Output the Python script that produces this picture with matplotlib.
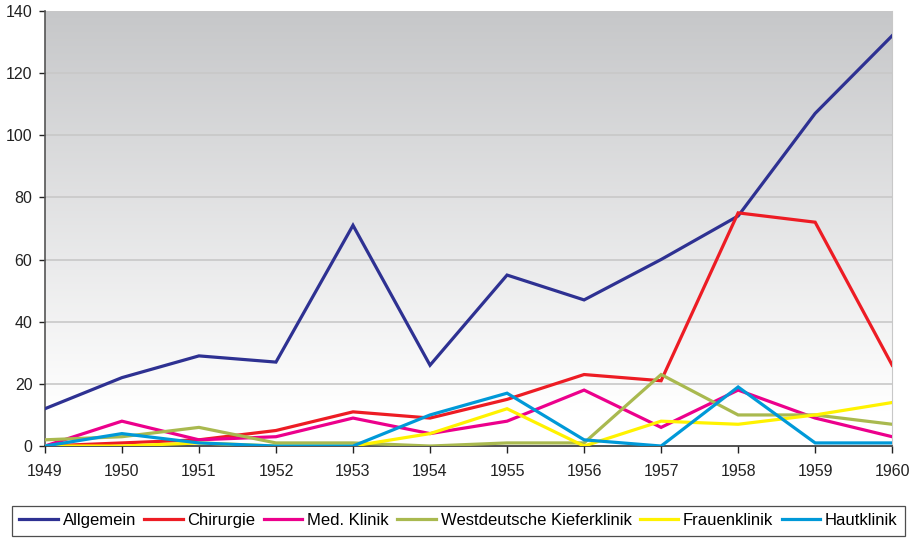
import matplotlib
matplotlib.use("Agg")
import matplotlib.pyplot as plt
import numpy as np

plt.rcParams['font.family'] = ['Liberation Sans', 'DejaVu Sans']

jahre = [1949, 1950, 1951, 1952, 1953, 1954, 1955, 1956, 1957, 1958, 1959, 1960]

allgemein = [12, 22, 29, 27, 71, 26, 55, 47, 60, 74, 107, 132]
chirurgie = [0, 1, 2, 5, 11, 9, 15, 23, 21, 75, 72, 26]
med_klinik = [0, 8, 2, 3, 9, 4, 8, 18, 6, 18, 9, 3]
kieferklinik = [2, 3, 6, 1, 1, 0, 1, 1, 23, 10, 10, 7]
frauenklinik = [0, 0, 1, 0, 0, 4, 12, 0, 8, 7, 10, 14]
hautklinik = [0, 4, 1, 0, 0, 10, 17, 2, 0, 19, 1, 1]

namen = ["Allgemein", "Chirurgie", "Med. Klinik", "Westdeutsche Kieferklinik",
         "Frauenklinik", "Hautklinik"]
reihen = [allgemein, chirurgie, med_klinik, kieferklinik, frauenklinik, hautklinik]
farben = ["#2e3192", "#ed1c24", "#ec008c", "#a9b94f", "#fff200", "#0099d8"]

fig = plt.figure(figsize=(9.16, 5.4), dpi=100)
ax = fig.add_axes([0.049, 0.174, 0.925, 0.806])

# Hintergrund mit Verlauf grau -> weiss
verlauf = np.linspace(0, 1, 256).reshape(-1, 1)
cmap = matplotlib.colors.LinearSegmentedColormap.from_list(
    "bg", [(0, "#ffffff"), (0.08, "#ffffff"), (1, "#c6c7c9")])
ax.imshow(verlauf, extent=[1949, 1960, 0, 140], origin="lower", aspect="auto",
          cmap=cmap, zorder=0)

for y in range(20, 141, 20):
    ax.axhline(y, color="#c8c8c8", lw=1.2, zorder=1)

for werte, name, farbe in zip(reihen, namen, farben):
    ax.plot(jahre, werte, color=farbe, lw=2.3, label=name, zorder=3,
            solid_joinstyle="miter")

ax.set_xlim(1949, 1960)
ax.set_ylim(0, 140)
ax.set_xticks(jahre)
ax.set_yticks(range(0, 141, 20))
ax.tick_params(axis="both", labelsize=11.5, colors="#222222", length=5, width=1)
ax.tick_params(axis="x", pad=8)
ax.tick_params(axis="y", length=4, pad=5)

ax.spines["top"].set_visible(False)
ax.spines["right"].set_color("#c8c8c8")
ax.spines["left"].set_color("#555555")
ax.spines["bottom"].set_color("#333333")
ax.spines["left"].set_linewidth(1.2)
ax.spines["bottom"].set_linewidth(1.2)

leg = fig.legend(loc="center", bbox_to_anchor=(0.5005, 0.036), ncol=6,
                 fontsize=12, frameon=True, fancybox=False, handlelength=2.3,
                 columnspacing=0.5, handletextpad=0.3, borderpad=0.45,
                 borderaxespad=0)
leg.get_frame().set_edgecolor("#222222")
leg.get_frame().set_linewidth(0.9)

fig.savefig("out.png", dpi=100)
